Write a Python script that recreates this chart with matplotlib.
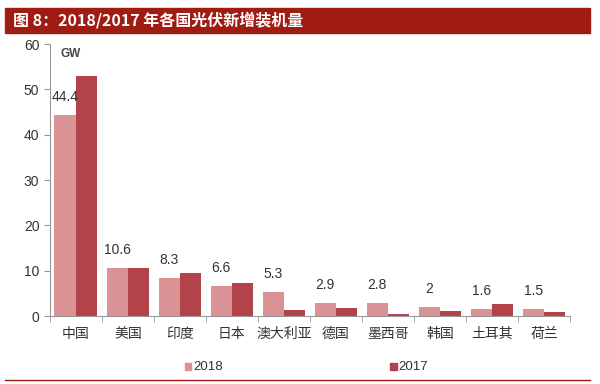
import numpy as np
import matplotlib
matplotlib.use("Agg")
import matplotlib.pyplot as plt
from matplotlib.patches import Rectangle
from matplotlib.lines import Line2D

plt.rcParams['font.family'] = ['Liberation Sans', 'Noto Sans CJK SC', 'DejaVu Sans']

countries = ["中国", "美国", "印度", "日本", "澳大利亚", "德国", "墨西哥", "韩国", "土耳其", "荷兰"]
values_2018 = [44.4, 10.6, 8.3, 6.6, 5.3, 2.9, 2.8, 2.0, 1.6, 1.5]
values_2017 = [53.0, 10.6, 9.6, 7.2, 1.3, 1.8, 0.4, 1.2, 2.6, 0.8]
labels_2018 = ["44.4", "10.6", "8.3", "6.6", "5.3", "2.9", "2.8", "2", "1.6", "1.5"]

c2018 = "#d99394"
c2017 = "#b3434a"
dark_red = "#a01c12"

fig = plt.figure(figsize=(6, 3.84), dpi=100)
ax = fig.add_axes([0.083, 0.177, 0.867, 0.708])

x = np.arange(len(countries))
w = 0.41
ax.bar(x - w / 2, values_2018, w, color=c2018, label="2018")
ax.bar(x + w / 2, values_2017, w, color=c2017, label="2017")

# value labels only for 2018
for xi, v, lab in zip(x, values_2018, labels_2018):
    ax.annotate(lab, (xi - w / 2, v), xytext=(0, 8), textcoords="offset points",
                ha="center", va="bottom", fontsize=10, color="#333333")

ax.set_xlim(-0.5, len(countries) - 0.5)
ax.set_ylim(0, 60)
ax.set_yticks(range(0, 61, 10))
ax.set_xticks(x)
ax.set_xticklabels(countries, fontsize=10, family=['Noto Sans CJK SC', 'DejaVu Sans'],
                   color="#333333")
ax.set_xticks(np.arange(-0.5, len(countries), 1), minor=True)
ax.tick_params(axis="x", which="major", length=0, pad=8)
ax.tick_params(axis="x", which="minor", length=4, color="#999999", direction="out")
ax.tick_params(axis="y", length=4, color="#999999", labelsize=10, labelcolor="#333333")

for s in ["top", "right"]:
    ax.spines[s].set_visible(False)
for s in ["left", "bottom"]:
    ax.spines[s].set_color("#999999")

ax.text(0.02, 0.985, "GW", transform=ax.transAxes, fontsize=8.5, fontweight="bold",
        color="#444444", va="top", ha="left")

# title bar
fig.patches.append(Rectangle((0.008, 0.914), 0.975, 0.066, transform=fig.transFigure,
                             color=dark_red, zorder=0))
fig.text(0.022, 0.947, "图 8：2018/2017 年各国光伏新增装机量", color="white", fontsize=11.5,
         fontweight="bold", va="center", ha="left",
         family=['Noto Sans CJK SC', 'DejaVu Sans'])

# legend
fig.patches.append(Rectangle((0.308, 0.036), 0.011, 0.018, transform=fig.transFigure,
                             color=c2018))
fig.text(0.322, 0.045, "2018", fontsize=9.5, va="center", ha="left", color="#333333")
fig.patches.append(Rectangle((0.65, 0.036), 0.011, 0.018, transform=fig.transFigure,
                             color=c2017))
fig.text(0.664, 0.045, "2017", fontsize=9.5, va="center", ha="left", color="#333333")

# bottom line
fig.lines.append(Line2D([0.008, 0.983], [0.01, 0.01], transform=fig.transFigure,
                        color=dark_red, linewidth=1))

fig.savefig("out.png", dpi=100, facecolor="white")
